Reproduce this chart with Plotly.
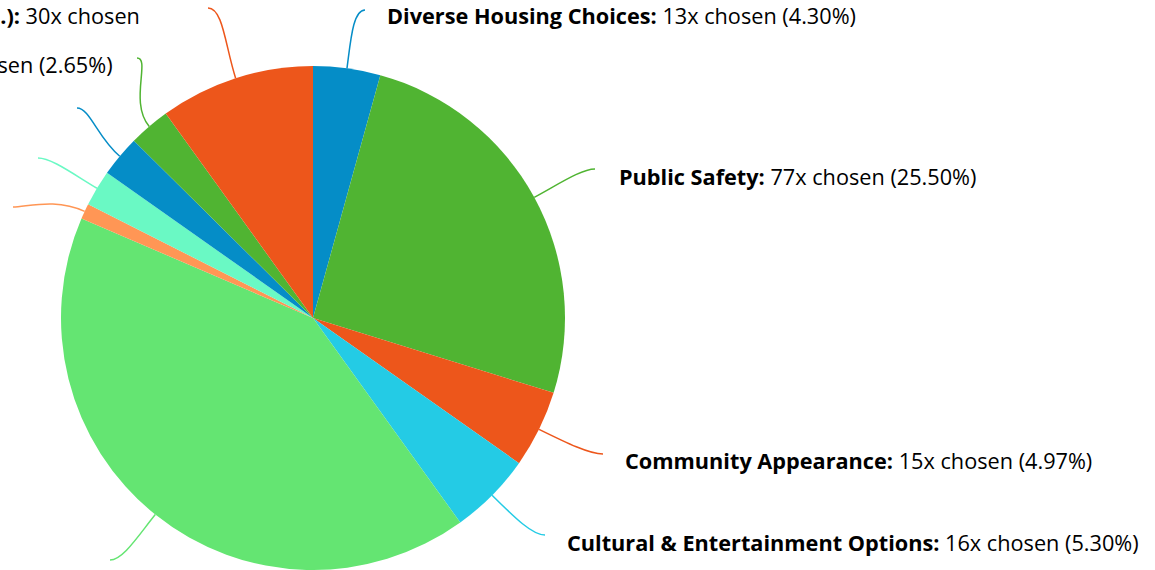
import math
import plotly.graph_objects as go

# ---- data ----
categories = [
    "Diverse Housing Choices",
    "Public Safety",
    "Community Appearance",
    "Cultural & Entertainment Options",
    "Quality Schools",
    "Other",
    "Parks & Green Spaces",
    "Public Transportation",
    "Walkability",
    "Economic Development (Jobs, Businesses, etc.)",
]
counts = [13, 77, 15, 16, 125, 3, 7, 8, 8, 30]
colors = ["#058DC7", "#50B432", "#ED561B", "#24CBE5", "#64E572",
          "#FF9655", "#6AF9C4", "#058DC7", "#50B432", "#ED561B"]

# ---- layout (pixels) ----
W, H = 1155, 570
CX, CY, R = 313, 318, 252
# label text anchor (x, y center) for each slice; None = label falls outside the canvas
label_pos = [
    (385, 16, "left"),
    (617, 176, "left"),
    (623, 460, "left"),
    (565, 542, "left"),
    None,
    None,
    None,
    None,
    (115, 64, "right"),
    (142, 29, "right"),
]
# connector end points
conn_end = [
    (365, 10), (595, 169), (603, 454), (545, 535), (110, 560),
    (13, 207), (38, 158), (77, 108), (137, 58), (208, 8),
]

FONT = "Open Sans"
FS = 21.7

def px(x):
    return x / W

def py(y):
    return 1 - y / H

total = sum(counts)
fig = go.Figure(go.Pie(
    labels=categories,
    values=counts,
    sort=False,
    direction="clockwise",
    rotation=0,
    textinfo="none",
    marker=dict(colors=colors, line=dict(width=0)),
    domain=dict(x=[(CX - R) / W, (CX + R) / W], y=[(H - (CY + R)) / H, (H - (CY - R)) / H]),
    showlegend=False,
    hoverinfo="label+value+percent",
))

shapes = []
annotations = []
cum = 0
for i, (name, v) in enumerate(zip(categories, counts)):
    mid = (cum + v / 2) / total * 2 * math.pi
    cum += v
    sx, sy = math.sin(mid), -math.cos(mid)
    x0, y0 = CX + R * sx, CY + R * sy
    ex, ey = conn_end[i]
    dist = math.hypot(ex - x0, ey - y0)
    x1, y1 = x0 + sx * dist * 0.45, y0 + sy * dist * 0.45
    side = 1 if ex > CX else -1
    x2, y2 = ex - side * dist * 0.2, ey
    path = (f"M {px(x0)},{py(y0)} C {px(x1)},{py(y1)} {px(x2)},{py(y2)} {px(ex)},{py(ey)}")
    shapes.append(dict(type="path", path=path, xref="paper", yref="paper",
                       line=dict(color=colors[i], width=1.5)))
    lp = label_pos[i]
    if lp is None:
        continue
    pct = v / total * 100
    if i == 9:
        text = f"<b>{name}:</b> {v}x chosen<br>({pct:.2f}%)"
    else:
        text = f"<b>{name}:</b> {v}x chosen ({pct:.2f}%)"
    lx, ly, anchor = lp
    annotations.append(dict(
        x=px(lx), y=py(ly), xref="paper", yref="paper",
        text=text, showarrow=False, xanchor=anchor, yanchor="middle",
        align="left", font=dict(family=FONT, size=FS, color="#000000"),
    ))

fig.update_layout(
    width=W, height=H,
    margin=dict(l=0, r=0, t=0, b=0),
    paper_bgcolor="#ffffff",
    plot_bgcolor="#ffffff",
    shapes=shapes,
    annotations=annotations,
)

fig.write_html("out.html", config={"displayModeBar": False},
               post_script="document.body.style.margin='0px';")
